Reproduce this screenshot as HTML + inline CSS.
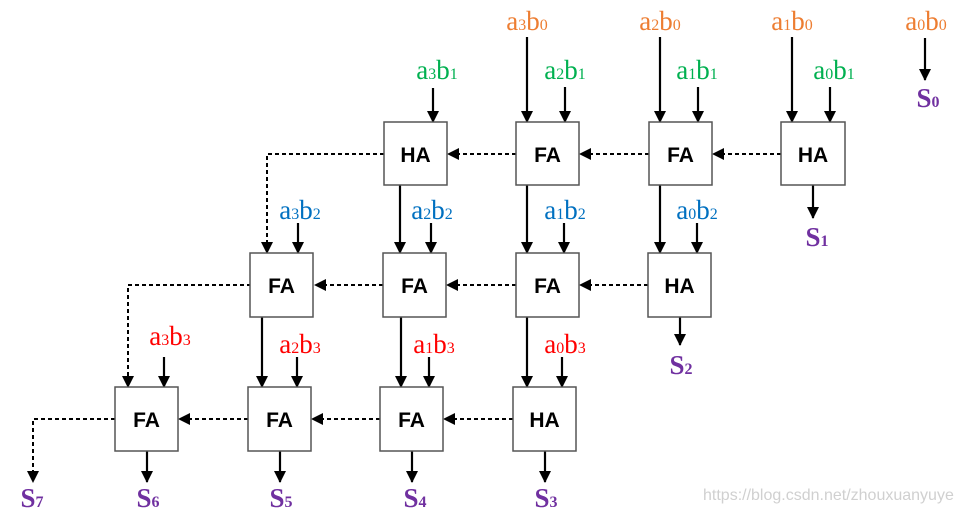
<!DOCTYPE html>
<html><head><meta charset="utf-8"><style>
html,body{margin:0;padding:0;background:#fff;}
svg{display:block;}
.lb{font-family:"Liberation Serif",serif;font-size:27px;}
.sub{font-size:16px;}
.bx{fill:#fff;stroke:#555;stroke-width:1.5;}
.bt{font-family:"Liberation Sans",sans-serif;font-weight:bold;font-size:21px;text-anchor:middle;}
.s{stroke:#000;stroke-width:2.2;fill:none;}
.d{stroke:#000;stroke-width:2;fill:none;stroke-dasharray:4,3;}
</style></head><body>
<svg width="961" height="514" viewBox="0 0 961 514" xmlns="http://www.w3.org/2000/svg">
<defs>
<marker id="ah2" markerWidth="12" markerHeight="12" refX="11" refY="6" orient="auto" markerUnits="userSpaceOnUse">
<path d="M0,0 L12,6 L0,12 z" fill="#000"/></marker>
</defs>

<g class="s" marker-end="url(#ah2)">
<line x1="433" y1="88" x2="433" y2="122"/>
<line x1="527" y1="37" x2="527" y2="122"/>
<line x1="565" y1="87" x2="565" y2="122"/>
<line x1="660" y1="37" x2="660" y2="122"/>
<line x1="698" y1="87" x2="698" y2="122"/>
<line x1="792" y1="37" x2="792" y2="122"/>
<line x1="830" y1="87" x2="830" y2="122"/>
<line x1="925" y1="38" x2="925" y2="80"/>
<line x1="298" y1="223" x2="298" y2="253"/>
<line x1="431" y1="223" x2="431" y2="253"/>
<line x1="564" y1="223" x2="564" y2="253"/>
<line x1="697" y1="223" x2="697" y2="253"/>
<line x1="400" y1="185" x2="400" y2="253"/>
<line x1="527" y1="185" x2="527" y2="253"/>
<line x1="660" y1="185" x2="660" y2="253"/>
<line x1="813" y1="185" x2="813" y2="218"/>
<line x1="164" y1="357" x2="164" y2="387"/>
<line x1="297" y1="357" x2="297" y2="387"/>
<line x1="429" y1="357" x2="429" y2="387"/>
<line x1="562" y1="357" x2="562" y2="387"/>
<line x1="262" y1="317" x2="262" y2="387"/>
<line x1="401" y1="317" x2="401" y2="387"/>
<line x1="527" y1="317" x2="527" y2="387"/>
<line x1="680" y1="317" x2="680" y2="345"/>
<line x1="147" y1="451" x2="147" y2="482"/>
<line x1="280" y1="451" x2="280" y2="482"/>
<line x1="412" y1="451" x2="412" y2="482"/>
<line x1="545" y1="451" x2="545" y2="482"/>
</g>

<g class="d" marker-end="url(#ah2)">
<line x1="516" y1="154" x2="448" y2="154"/>
<line x1="649" y1="154" x2="580" y2="154"/>
<line x1="781" y1="154" x2="713" y2="154"/>
<line x1="383" y1="285" x2="315" y2="285"/>
<line x1="516" y1="285" x2="447" y2="285"/>
<line x1="648" y1="285" x2="580" y2="285"/>
<line x1="248" y1="419" x2="179" y2="419"/>
<line x1="380" y1="419" x2="312" y2="419"/>
<line x1="513" y1="419" x2="444" y2="419"/>
<polyline points="384,154 267,154 267,253"/>
<polyline points="251,285 128,285 128,387"/>
<polyline points="115,419 33,419 33,482"/>
</g>

<g>
<rect class="bx" x="384" y="122" width="63" height="63"/><text class="bt" x="415.5" y="162">HA</text>
<rect class="bx" x="516" y="122" width="63" height="63"/><text class="bt" x="547.5" y="162">FA</text>
<rect class="bx" x="649" y="122" width="63" height="63"/><text class="bt" x="680.5" y="162">FA</text>
<rect class="bx" x="781" y="122" width="64" height="63"/><text class="bt" x="813" y="162">HA</text>
<rect class="bx" x="250" y="253" width="63" height="64"/><text class="bt" x="281.5" y="293">FA</text>
<rect class="bx" x="383" y="253" width="63" height="64"/><text class="bt" x="414.5" y="293">FA</text>
<rect class="bx" x="516" y="253" width="63" height="64"/><text class="bt" x="547.5" y="293">FA</text>
<rect class="bx" x="648" y="253" width="63" height="64"/><text class="bt" x="679.5" y="293">HA</text>
<rect class="bx" x="115" y="387" width="63" height="64"/><text class="bt" x="146.5" y="427">FA</text>
<rect class="bx" x="248" y="387" width="63" height="64"/><text class="bt" x="279.5" y="427">FA</text>
<rect class="bx" x="380" y="387" width="63" height="64"/><text class="bt" x="411.5" y="427">FA</text>
<rect class="bx" x="513" y="387" width="63" height="64"/><text class="bt" x="544.5" y="427">HA</text>
</g>

<g class="lb" text-anchor="middle">
<g fill="#ED7D31">
<text x="527" y="30">a<tspan class="sub">3</tspan>b<tspan class="sub">0</tspan></text>
<text x="660" y="30">a<tspan class="sub">2</tspan>b<tspan class="sub">0</tspan></text>
<text x="792" y="30">a<tspan class="sub">1</tspan>b<tspan class="sub">0</tspan></text>
<text x="926" y="30">a<tspan class="sub">0</tspan>b<tspan class="sub">0</tspan></text>
</g>
<g fill="#00B050">
<text x="437" y="79">a<tspan class="sub">3</tspan>b<tspan class="sub">1</tspan></text>
<text x="565" y="79">a<tspan class="sub">2</tspan>b<tspan class="sub">1</tspan></text>
<text x="697" y="79">a<tspan class="sub">1</tspan>b<tspan class="sub">1</tspan></text>
<text x="834" y="79">a<tspan class="sub">0</tspan>b<tspan class="sub">1</tspan></text>
</g>
<g fill="#0070C0">
<text x="300" y="219">a<tspan class="sub">3</tspan>b<tspan class="sub">2</tspan></text>
<text x="432" y="219">a<tspan class="sub">2</tspan>b<tspan class="sub">2</tspan></text>
<text x="565" y="219">a<tspan class="sub">1</tspan>b<tspan class="sub">2</tspan></text>
<text x="697" y="219">a<tspan class="sub">0</tspan>b<tspan class="sub">2</tspan></text>
</g>
<g fill="#FF0000">
<text x="170" y="345">a<tspan class="sub">3</tspan>b<tspan class="sub">3</tspan></text>
<text x="300" y="353">a<tspan class="sub">2</tspan>b<tspan class="sub">3</tspan></text>
<text x="434" y="353">a<tspan class="sub">1</tspan>b<tspan class="sub">3</tspan></text>
<text x="565" y="353">a<tspan class="sub">0</tspan>b<tspan class="sub">3</tspan></text>
</g>
<g fill="#7030A0" font-weight="bold">
<text x="928" y="107">S<tspan class="sub">0</tspan></text>
<text x="817" y="246">S<tspan class="sub">1</tspan></text>
<text x="681" y="374">S<tspan class="sub">2</tspan></text>
<text x="546" y="507">S<tspan class="sub">3</tspan></text>
<text x="415" y="507">S<tspan class="sub">4</tspan></text>
<text x="281" y="507">S<tspan class="sub">5</tspan></text>
<text x="148" y="507">S<tspan class="sub">6</tspan></text>
<text x="32" y="507">S<tspan class="sub">7</tspan></text>
</g>
</g>
<text x="703" y="500" font-family="Liberation Sans,sans-serif" font-size="16" fill="#d0d0d0">https://blog.csdn.net/zhouxuanyuye</text>
</svg>
</body></html>
